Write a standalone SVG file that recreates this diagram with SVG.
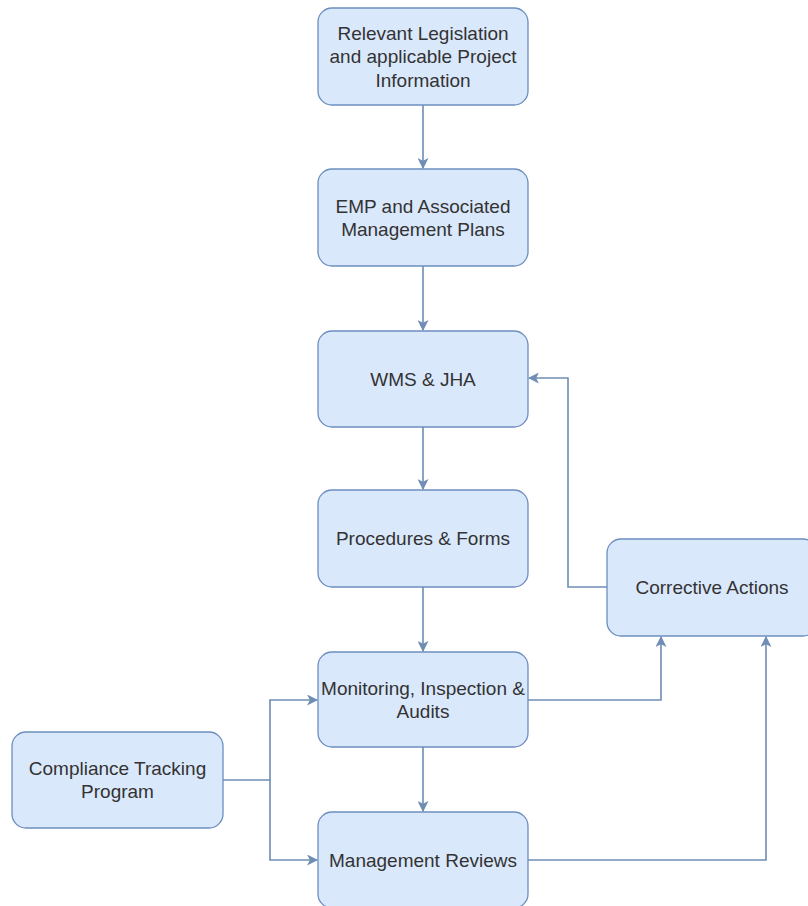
<svg xmlns="http://www.w3.org/2000/svg" width="808" height="906" viewBox="0 0 808 906">
<defs>
<style>
.box{fill:#dae8fc;stroke:#6c8ebf;stroke-width:1.3}
.t{font-family:"Liberation Sans",Arial,sans-serif;font-size:19px;fill:#333333;text-anchor:middle}
.e{fill:none;stroke:#6f8db5;stroke-width:1.6}
</style>
<marker id="ah" viewBox="0 0 10 10" refX="9" refY="5" markerWidth="11" markerHeight="11" markerUnits="userSpaceOnUse" orient="auto">
<path d="M0,0 L10,5 L0,10 L2.5,5 Z" fill="#6f8db5"/>
</marker>
</defs>
<rect width="808" height="906" fill="#ffffff"/>
<g id="connectors">
<path class="e" d="M423,105 V168" marker-end="url(#ah)"/>
<path class="e" d="M423,266 V330" marker-end="url(#ah)"/>
<path class="e" d="M423,427 V489" marker-end="url(#ah)"/>
<path class="e" d="M423,587 V651" marker-end="url(#ah)"/>
<path class="e" d="M423,747 V811" marker-end="url(#ah)"/>
<path class="e" d="M607,587 H568 V378 H529" marker-end="url(#ah)"/>
<path class="e" d="M528,700 H661 V637" marker-end="url(#ah)"/>
<path class="e" d="M528,860 H766 V637" marker-end="url(#ah)"/>
<path class="e" d="M223,780 H270 V700 H317" marker-end="url(#ah)"/>
<path class="e" d="M270,780 V860 H317" marker-end="url(#ah)"/>
</g>
<g id="n1">
<rect class="box" x="318" y="8" width="210" height="97" rx="14"/>
<text class="t" x="423" y="39.5">Relevant Legislation</text>
<text class="t" x="423" y="63">and applicable Project</text>
<text class="t" x="423" y="86.5">Information</text>
</g>
<g id="n2">
<rect class="box" x="318" y="169" width="210" height="97" rx="14"/>
<text class="t" x="423" y="212.5">EMP and Associated</text>
<text class="t" x="423" y="235.5">Management Plans</text>
</g>
<g id="n3">
<rect class="box" x="318" y="331" width="210" height="96" rx="14"/>
<text class="t" x="423" y="385.5">WMS &amp; JHA</text>
</g>
<g id="n4">
<rect class="box" x="318" y="490" width="210" height="97" rx="14"/>
<text class="t" x="423" y="545">Procedures &amp; Forms</text>
</g>
<g id="n5">
<rect class="box" x="607" y="539" width="210" height="97" rx="14"/>
<text class="t" x="712" y="594">Corrective Actions</text>
</g>
<g id="n6">
<rect class="box" x="318" y="652" width="210" height="95" rx="14"/>
<text class="t" x="423" y="694.5">Monitoring, Inspection &amp;</text>
<text class="t" x="423" y="717.5">Audits</text>
</g>
<g id="n7">
<rect class="box" x="12" y="732" width="211" height="96" rx="14"/>
<text class="t" x="117.5" y="775">Compliance Tracking</text>
<text class="t" x="117.5" y="798">Program</text>
</g>
<g id="n8">
<rect class="box" x="318" y="812" width="210" height="96" rx="14"/>
<text class="t" x="423" y="866.5">Management Reviews</text>
</g>
</svg>
